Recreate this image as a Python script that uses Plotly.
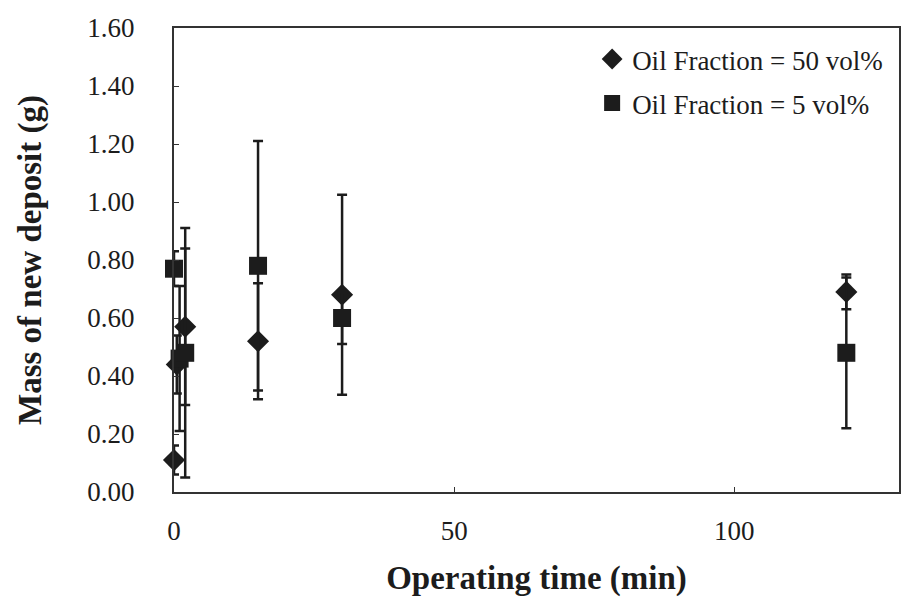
import plotly.graph_objects as go

# Oil Fraction = 50 vol% (diamonds)
t50 = [0, 0.5, 2, 15, 30, 120]
m50 = [0.11, 0.44, 0.57, 0.52, 0.68, 0.69]
e50 = [0.05, 0.10, 0.27, 0.20, 0.345, 0.06]

# Oil Fraction = 5 vol% (squares)
t5 = [0, 1, 2, 15, 30, 120]
m5 = [0.77, 0.46, 0.48, 0.78, 0.60, 0.48]
e5 = [0.06, 0.25, 0.43, 0.43, 0.09, 0.26]

y_ticks = [0, 0.2, 0.4, 0.6, 0.8, 1.0, 1.2, 1.4, 1.6]
y_labels = ["0.00", "0.20", "0.40", "0.60", "0.80", "1.00", "1.20", "1.40", "1.60"]
x_ticks = [0, 50, 100]

FONT = "Liberation Serif"
INK = "#1c1c1c"

fig = go.Figure()
fig.add_trace(go.Scatter(
    x=t50, y=m50, mode="markers", name="Oil Fraction = 50 vol%", legendgroup="a",
    marker=dict(symbol="diamond", size=17, color=INK),
    error_y=dict(type="data", array=e50, visible=True, color=INK, thickness=2.5, width=5),
    cliponaxis=False,
))
fig.add_trace(go.Scatter(
    x=t5, y=m5, mode="markers", name="Oil Fraction = 5 vol%", legendgroup="b",
    marker=dict(symbol="square", size=18, color=INK),
    error_y=dict(type="data", array=e5, visible=True, color=INK, thickness=2.5, width=5),
    cliponaxis=False,
))

fig.update_layout(
    width=901, height=601,
    margin=dict(l=174, r=0, t=28, b=109),
    paper_bgcolor="white", plot_bgcolor="white",
    font=dict(family=FONT, color=INK, size=22),
    showlegend=True,
    legend=dict(x=0.985, xanchor="right", y=0.985, yanchor="top",
                bgcolor="rgba(0,0,0,0)", font=dict(family=FONT, size=27, color=INK),
                itemwidth=30, tracegroupgap=6),
    xaxis=dict(
        range=[0, 129.4], tickvals=x_ticks, ticktext=[str(v) for v in x_ticks],
        showgrid=False, zeroline=False, showline=True, linecolor="#333333", linewidth=2,
        mirror=True, ticks="inside", ticklen=5, tickcolor="#333333",
        ticklabelstandoff=14,
        tickfont=dict(family=FONT, size=27, color=INK),
        title=dict(text="<b>Operating time (min)</b>", font=dict(family=FONT, size=33, color=INK), standoff=20),
    ),
    yaxis=dict(
        range=[0, 1.6], tickvals=y_ticks, ticktext=y_labels,
        showgrid=False, zeroline=False, showline=True, linecolor="#333333", linewidth=2,
        mirror=True, ticks="inside", ticklen=5, tickcolor="#333333",
        ticklabelstandoff=32,
        tickfont=dict(family=FONT, size=27, color=INK),
        title=dict(text="<b>Mass of new deposit (g)</b>", font=dict(family=FONT, size=33, color=INK), standoff=36),
    ),
)

fig.write_html("out.html")
